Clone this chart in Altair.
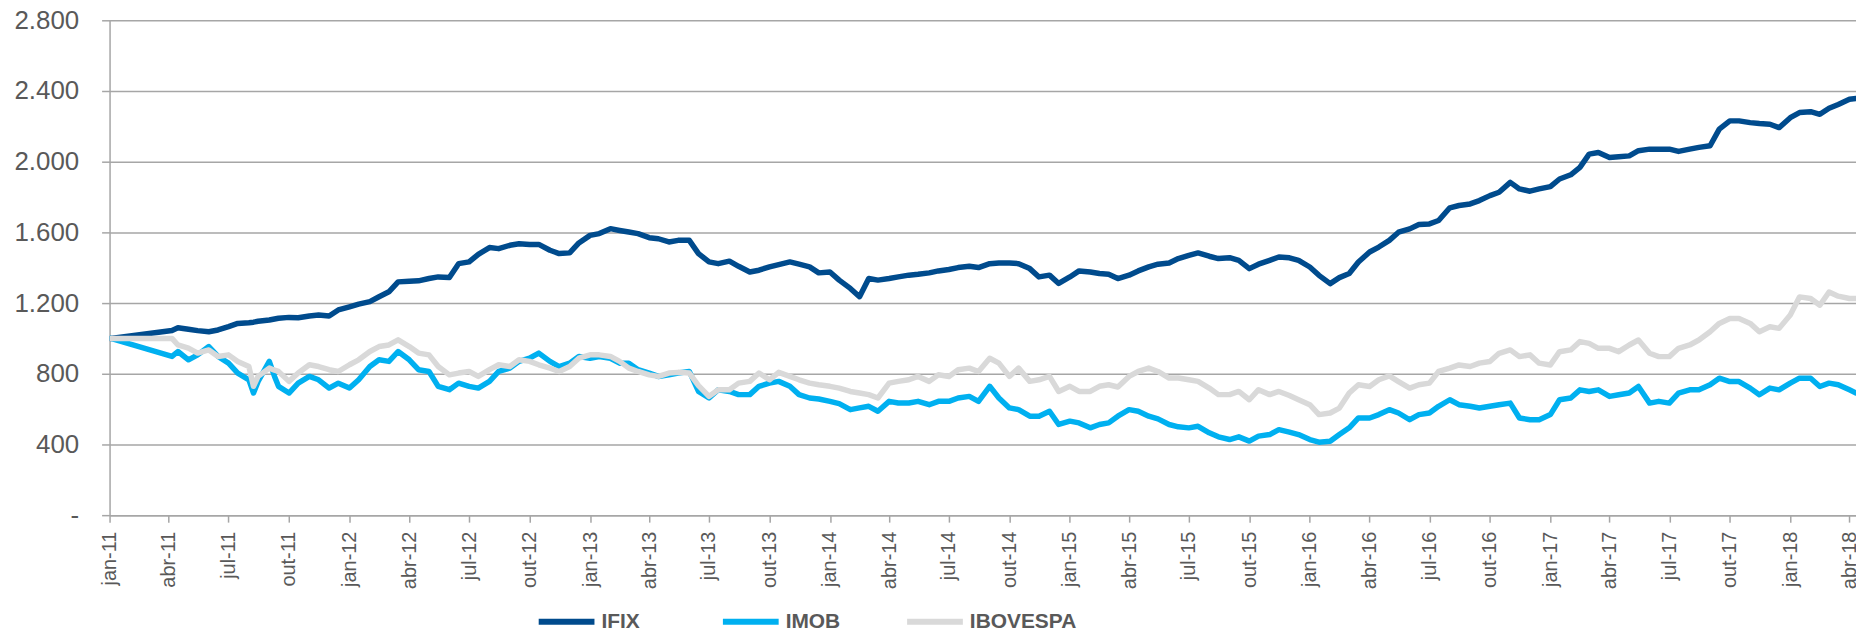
import altair as alt
import pandas as pd

series = ["IFIX", "IMOB", "IBOVESPA"]
colors = ["#004b8d", "#00b0f0", "#d9d9d9"]

# observation dates: first day, start of daily series, semi-monthly samples, notable days
semi_monthly = [d.strftime("%Y-%m-%d") for d in pd.date_range("2011-04-15", "2018-04-01", freq="SMS")]
extra_dates = ["2011-01-03", "2011-04-06", "2011-08-08", "2011-09-09", "2018-04-11"]
dates = sorted(semi_monthly + extra_dates)

ifix = [
    1000, 1045, 1060, 1052, 1044, 1038, 1048, 1067, 1085, 1089, 1092, 1097, 1104, 1110, 1114, 1119, 1117, 1127, 1132, 1127, 1161,
    1179, 1194, 1208, 1236, 1264, 1320, 1324, 1326, 1339, 1348, 1345, 1423, 1433, 1476, 1514, 1508, 1527, 1536, 1532, 1532, 1499, 1480, 1484, 1540,
    1583, 1593, 1621, 1611, 1602, 1593, 1570, 1564, 1546, 1555, 1555, 1480, 1433, 1423, 1437, 1408, 1376, 1386, 1405, 1418, 1433, 1420, 1405, 1371,
    1376, 1330, 1283, 1236, 1339, 1330, 1339, 1348, 1358, 1363, 1371, 1382, 1390, 1401, 1408, 1401, 1423, 1427, 1427, 1423, 1395, 1348, 1358, 1311,
    1348, 1382, 1376, 1367, 1363, 1339, 1358, 1382, 1405, 1420, 1427, 1452, 1470, 1484, 1465, 1452, 1457, 1442, 1395, 1420, 1442, 1461, 1456, 1442,
    1404, 1357, 1310, 1344, 1367, 1432, 1489, 1517, 1555, 1601, 1620, 1645, 1648, 1667, 1739, 1752, 1761, 1780, 1808, 1827, 1883, 1846, 1833, 1846,
    1859, 1902, 1926, 1968, 2043, 2052, 2024, 2028, 2033, 2062, 2071, 2071, 2071, 2058, 2071, 2081, 2090, 2184, 2231, 2231, 2221, 2216, 2212, 2193,
    2249, 2278, 2283, 2268, 2302, 2324, 2353, 2358,
]
imob = [
    1000, 898, 926, 879, 907, 954, 898, 860, 804, 766, 691, 757, 870, 785, 729, 691, 747, 785, 766, 719, 747,
    719, 766, 841, 879, 870, 926, 879, 823, 813, 729, 710, 747, 729, 719, 757, 813, 832, 870, 888, 917, 870, 841, 860, 898,
    888, 898, 888, 860, 860, 823, 804, 785, 794, 804, 813, 700, 663, 710, 700, 682, 682, 729, 747, 757, 729, 682, 663, 657,
    644, 631, 597, 607, 616, 588, 644, 635, 635, 644, 625, 644, 644, 663, 672, 644, 729, 663, 607, 597, 560, 560, 588, 513,
    532, 522, 494, 513, 522, 560, 597, 588, 560, 545, 513, 500, 494, 503, 466, 443, 428, 443, 419, 447, 456, 484, 470, 456,
    428, 413, 418, 456, 494, 550, 550, 569, 597, 578, 540, 569, 578, 616, 653, 625, 616, 606, 616, 625, 634, 550, 540, 540,
    569, 653, 663, 709, 700, 709, 672, 681, 691, 728, 634, 644, 634, 691, 709, 709, 738, 775, 756, 756, 719, 681, 719, 709,
    747, 775, 775, 728, 747, 738, 709, 691,
]
ibovespa = [
    1000, 1000, 963, 945, 917, 935, 898, 907, 870, 841, 729, 785, 832, 820, 813, 757, 804, 851, 841, 823, 813,
    851, 879, 926, 954, 963, 992, 954, 917, 907, 841, 794, 804, 813, 785, 823, 851, 841, 879, 870, 851, 832, 813, 841, 888,
    907, 907, 898, 870, 832, 813, 794, 785, 804, 808, 804, 733, 672, 710, 710, 747, 757, 804, 766, 808, 785, 766, 747, 738,
    729, 719, 700, 691, 682, 663, 747, 757, 766, 785, 757, 794, 785, 823, 832, 813, 888, 860, 785, 832, 757, 766, 785, 700,
    729, 700, 700, 729, 738, 725, 785, 813, 832, 813, 776, 776, 766, 757, 719, 682, 682, 700, 653, 710, 682, 700, 677, 653,
    625, 569, 578, 606, 691, 738, 728, 766, 788, 756, 719, 738, 747, 813, 832, 850, 841, 860, 869, 916, 935, 897, 907, 860,
    850, 925, 935, 982, 972, 944, 944, 925, 963, 991, 916, 897, 897, 944, 963, 991, 1038, 1085, 1113, 1113, 1085, 1038, 1066, 1057,
    1132, 1235, 1226, 1188, 1263, 1239, 1226, 1226,
]

assert len(ifix) == len(dates) and len(imob) == len(dates) and len(ibovespa) == len(dates)

quarter_ticks = pd.date_range("2011-01-01", "2018-04-01", freq="QS")
month_labels = ["jan", "abr", "jul", "out"]
y_ticks = [0, 400, 800, 1200, 1600, 2000, 2400, 2800]

df = pd.DataFrame({"date": dates, "IFIX": ifix, "IMOB": imob, "IBOVESPA": ibovespa})
long = df.melt("date", var_name="serie", value_name="valor")

GRAY = "#a6a6a6"
TEXT = "#595959"
FONT = "Liberation Sans"

month_arr = "[" + ",".join("'%s'" % m for m in month_labels) + "]"
x_label_expr = month_arr + "[floor(utcmonth(datum.value)/3)] + '-' + utcFormat(datum.value, '%y')"

x_enc = alt.X(
    "date:T",
    scale=alt.Scale(
        type="utc",
        domain=[alt.DateTime(year=2011, month=1, date=1, utc=True),
                alt.DateTime(year=2018, month=4, date=11, utc=True)],
    ),
    axis=alt.Axis(
        values=[alt.DateTime(year=d.year, month=d.month, date=1, utc=True) for d in quarter_ticks],
        labelExpr=x_label_expr,
        labelAngle=270,
        labelFont=FONT,
        labelFontSize=20,
        labelColor=TEXT,
        labelPadding=9,
        labelFlush=False,
        labelOverlap=False,
        tickSize=7,
        tickColor=GRAY,
        tickWidth=1.5,
        domainColor=GRAY,
        domainWidth=1.5,
        grid=False,
        title=None,
    ),
)
y_enc = alt.Y(
    "valor:Q",
    scale=alt.Scale(domain=[0, 2800], nice=False),
    axis=alt.Axis(
        values=y_ticks,
        labelExpr="datum.value == 0 ? '-' : replace(format(datum.value, ','), ',', '.')",
        labelFont=FONT,
        labelFontSize=26,
        labelColor=TEXT,
        labelPadding=23,
        tickSize=8,
        tickColor=GRAY,
        tickWidth=1.5,
        domainColor=GRAY,
        domainWidth=1.5,
        grid=True,
        gridColor=GRAY,
        gridWidth=1.5,
        title=None,
    ),
)
color_enc = alt.Color(
    "serie:N",
    scale=alt.Scale(domain=series, range=colors),
    legend=alt.Legend(
        title=None,
        orient="none",
        legendX=428,
        legendY=573,
        direction="horizontal",
        symbolType="stroke",
        symbolSize=3136,
        symbolStrokeWidth=6,
        labelFont=FONT,
        labelFontSize=21,
        labelFontWeight="bold",
        labelColor=TEXT,
        labelOffset=4,
        columnPadding=3,
        gridAlign="all",
        padding=0,
    ),
)

layers = [
    alt.Chart(long)
    .transform_filter(alt.datum.serie == s)
    .mark_line(strokeWidth=5.5, strokeCap="round", strokeJoin="round", clip=True)
    .encode(x=x_enc, y=y_enc, color=color_enc)
    for s in series
]

chart = (
    alt.layer(*layers)
    .properties(
        width=1754,
        height=497,
        autosize=alt.AutoSizeParams(type="none"),
        padding={"left": 102, "top": 11, "right": 0, "bottom": 118},
        background="white",
    )
    .configure_view(stroke=None)
)

chart.save("out.html", embed_options={"renderer": "svg", "actions": False})
